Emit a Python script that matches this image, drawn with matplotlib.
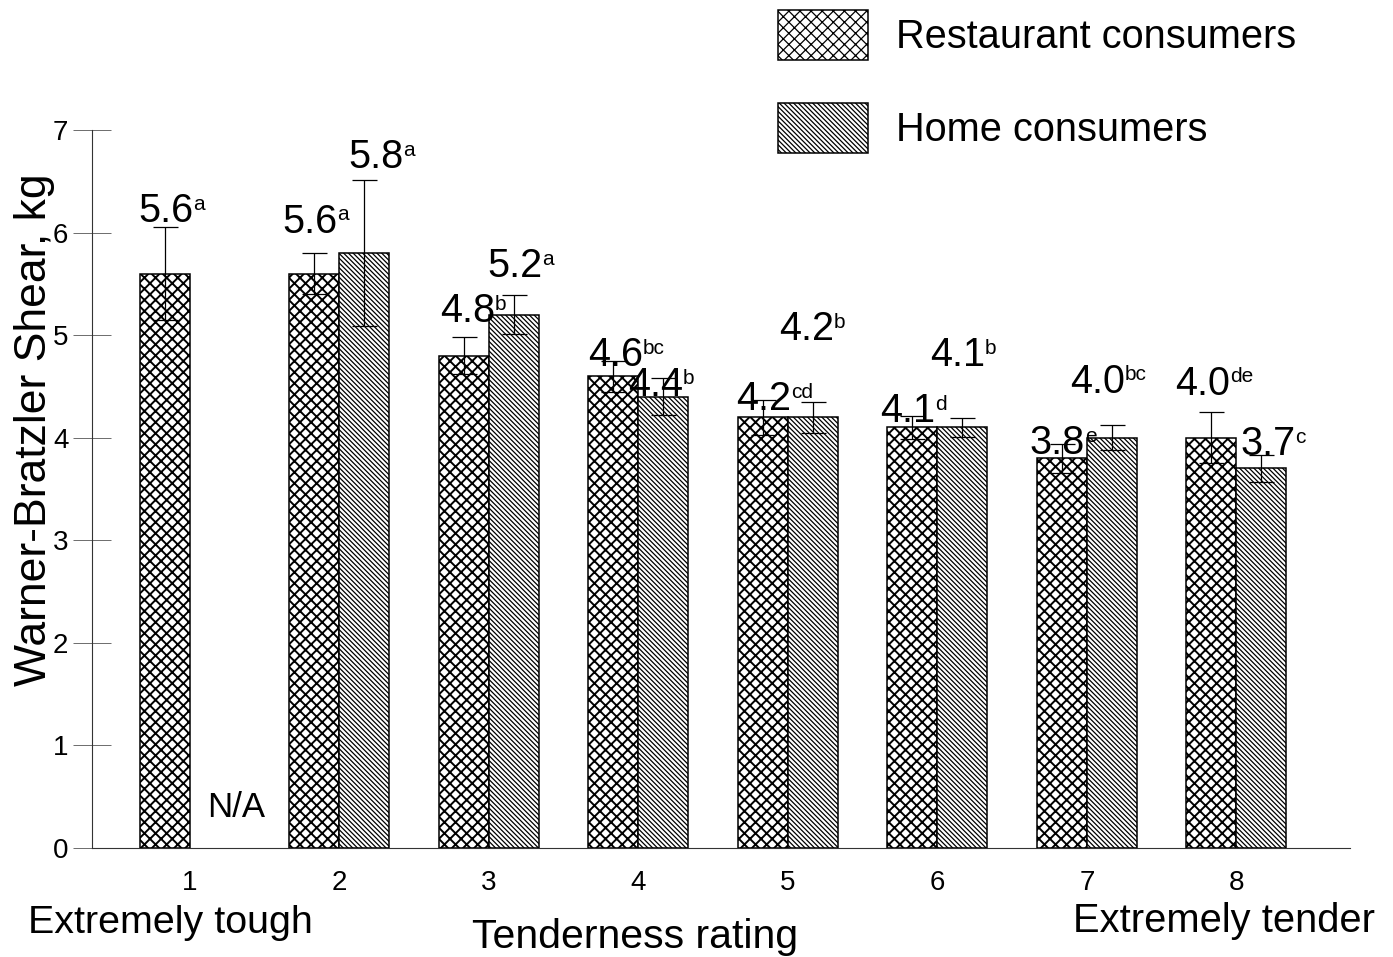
import numpy as np
import matplotlib
matplotlib.use("Agg")
import matplotlib.pyplot as plt

plt.rcParams['font.family'] = ['Liberation Sans', 'DejaVu Sans']

# Tenderness rating groups
ratings = [1, 2, 3, 4, 5, 6, 7, 8]
tick_labels = ['1', '2', '3', '4', '5', '6', '7', '8']

# Warner-Bratzler shear force (kg): means and standard errors
restaurant_mean = [5.6, 5.6, 4.8, 4.6, 4.2, 4.1, 3.8, 4.0]
restaurant_err = [0.45, 0.20, 0.18, 0.15, 0.17, 0.11, 0.14, 0.25]
restaurant_sig = ['a', 'a', 'b', 'bc', 'cd', 'd', 'e', 'de']

home_mean = [np.nan, 5.8, 5.2, 4.4, 4.2, 4.1, 4.0, 3.7]
home_err = [np.nan, 0.71, 0.19, 0.18, 0.15, 0.09, 0.12, 0.13]
home_sig = ['', 'a', 'a', 'b', 'b', 'b', 'bc', 'c']

series_names = ['Restaurant consumers', 'Home consumers']

# Label anchor points (left edge, baseline) in data units
rest_label_x = [0.653, 1.616, 2.673, 3.663, 4.653, 5.616, 6.619, 7.589]
rest_label_y = [6.10, 6.00, 5.13, 4.70, 4.27, 4.15, 3.84, 4.42]
home_label_x = [None, 2.057, 2.987, 3.930, 4.940, 5.950, 6.887, 8.024]
home_label_y = [None, 6.63, 5.57, 4.41, 4.95, 4.70, 4.44, 3.83]

W, H = 1393, 957
fig = plt.figure(figsize=(W / 100, H / 100), dpi=100)
ax = fig.add_axes([92 / W, 1 - 848 / H, 1258 / W, 718 / H])

x = np.array(ratings, dtype=float)
bw = 0.334

plt.rcParams['hatch.linewidth'] = 1.4
bars_r = ax.bar(x - bw, restaurant_mean, width=bw, align='edge',
                facecolor='white', edgecolor='black', linewidth=1.1,
                hatch='xxx', label=series_names[0], zorder=2)
plt.rcParams['hatch.linewidth'] = 0.9
bars_h = ax.bar(x, home_mean, width=bw, align='edge',
                facecolor='white', edgecolor='black', linewidth=1.1,
                hatch='\\' * 7, label=series_names[1], zorder=2)

for b in bars_r:
    if hasattr(b, 'set_hatch_linewidth'):
        b.set_hatch_linewidth(1.4)
for b in bars_h:
    if hasattr(b, 'set_hatch_linewidth'):
        b.set_hatch_linewidth(0.9)

ax.errorbar(x - bw / 2, restaurant_mean, yerr=restaurant_err, fmt='none',
            ecolor='black', elinewidth=0.9, capsize=9, capthick=0.9, zorder=3)
ax.errorbar(x + bw / 2, home_mean, yerr=home_err, fmt='none',
            ecolor='black', elinewidth=0.9, capsize=9, capthick=0.9, zorder=3)


def value_label(xp, yp, value, letters):
    t = ax.text(xp, yp, f'{value:.1f}', fontsize=28.5, ha='left',
                va='baseline', zorder=4)
    # significance letters raised to the top of the digits
    ax.annotate(letters, xy=(1, 0), xycoords=t, xytext=(0, 14.5),
                textcoords='offset points', fontsize=15,
                ha='left', va='baseline', zorder=4)


for i in range(len(ratings)):
    value_label(rest_label_x[i], rest_label_y[i], restaurant_mean[i],
                restaurant_sig[i])
    if not np.isnan(home_mean[i]):
        value_label(home_label_x[i], home_label_y[i], home_mean[i],
                    home_sig[i])
    else:
        ax.text(x[i] + 0.114, 0.30, 'N/A', fontsize=25, ha='left',
                va='baseline', zorder=4)

ax.set_xlim(0.345, 8.76)
ax.set_ylim(0, 7)
ax.set_xticks(x)
ax.set_xticklabels(tick_labels)
ax.set_yticks(range(0, 8))

for side in ('top', 'right'):
    ax.spines[side].set_visible(False)
for side in ('left', 'bottom'):
    ax.spines[side].set_linewidth(0.8)
    ax.spines[side].set_color('#333333')

ax.tick_params(axis='x', length=0, pad=16, labelsize=20)
ax.tick_params(axis='y', direction='inout', length=28, width=0.6,
               color='#555555', pad=3, labelsize=20)

fig.text(35 / W, 1 - 430 / H, 'Warner-Bratzler Shear, kg', rotation=90,
         fontsize=32, ha='center', va='center')
fig.text(28 / W, 1 - 933 / H, 'Extremely tough', fontsize=28.4,
         ha='left', va='baseline')
fig.text(1375 / W, 1 - 932 / H, 'Extremely tender', fontsize=28.7,
         ha='right', va='baseline')
fig.text(635 / W, 1 - 948 / H, 'Tenderness rating', fontsize=29.5,
         ha='center', va='baseline')

ax.legend(handles=[bars_r, bars_h], loc='upper left',
          bbox_to_anchor=(778 / W, 1 - 10 / H),
          bbox_transform=fig.transFigure, frameon=False, fontsize=28.6,
          handlelength=2.26, handleheight=1.57, handletextpad=0.72,
          labelspacing=1.08, borderpad=0, borderaxespad=0)

fig.savefig('out.png', dpi=100)
